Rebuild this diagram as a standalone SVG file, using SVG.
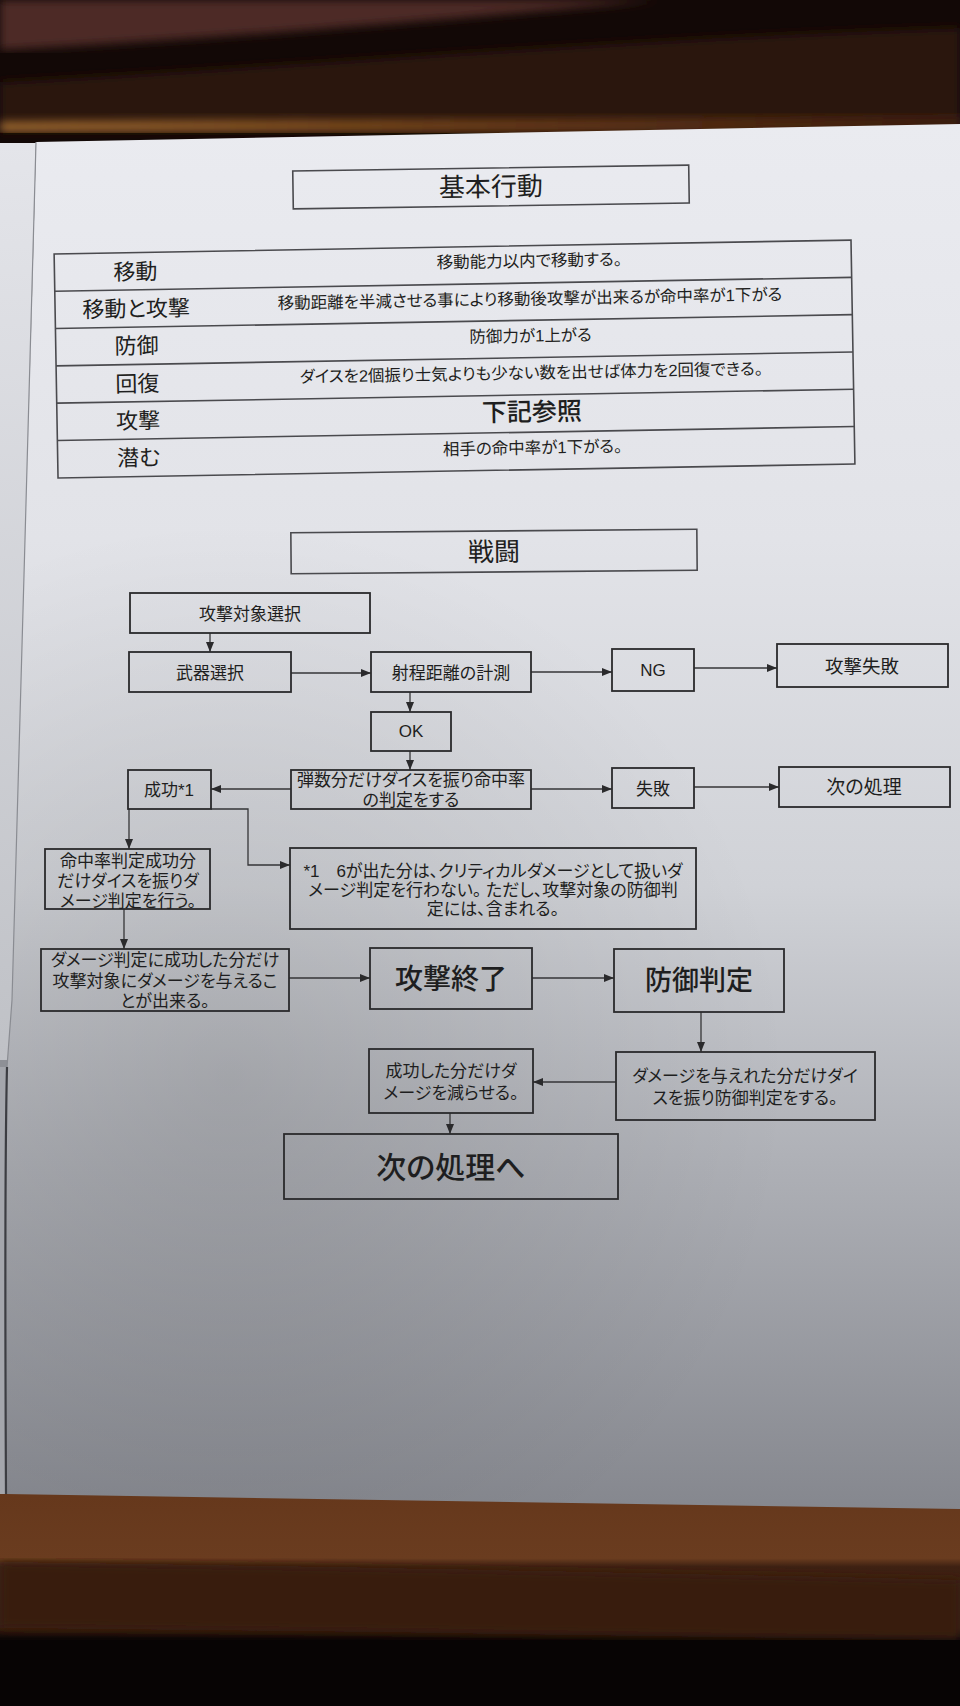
<svg xmlns="http://www.w3.org/2000/svg" width="960" height="1706" viewBox="0 0 960 1706">
<defs>
<style>
.box{fill:none;stroke:#2a2a2c;stroke-width:1.8}
.tb{fill:none;stroke:#4a4a4e;stroke-width:1.6}
.ln{fill:none;stroke:#353537;stroke-width:1.3}
.t{font-family:"Liberation Sans","Noto Sans CJK JP","Noto Sans CJK SC",sans-serif;font-weight:400;fill:#1e1e20;text-anchor:middle;font-feature-settings:"palt"}
.big{font-weight:500}
.s17{font-size:17px}
.lab{font-size:22px}
.desc{font-size:16.5px}
</style>
<linearGradient id="paper" x1="0" y1="124" x2="0" y2="1510" gradientUnits="userSpaceOnUse">
<stop offset="0" stop-color="#eaebf0"/>
<stop offset="0.3" stop-color="#e2e3e8"/>
<stop offset="0.55" stop-color="#d0d2d7"/>
<stop offset="0.75" stop-color="#aeb0b6"/>
<stop offset="1" stop-color="#85878e"/>
</linearGradient>
<linearGradient id="side" x1="0" y1="143" x2="0" y2="1065" gradientUnits="userSpaceOnUse">
<stop offset="0" stop-color="#e4e5ea"/>
<stop offset="1" stop-color="#bfc1c6"/>
</linearGradient>
<radialGradient id="shade" cx="230" cy="1080" r="560" gradientUnits="userSpaceOnUse">
<stop offset="0" stop-color="#000" stop-opacity="0.12"/>
<stop offset="1" stop-color="#000" stop-opacity="0"/>
</radialGradient>
<linearGradient id="orange" x1="0" y1="0" x2="960" y2="0" gradientUnits="userSpaceOnUse">
<stop offset="0" stop-color="#a06a30"/>
<stop offset="0.5" stop-color="#6a3c18"/>
<stop offset="1" stop-color="#3a1a0a"/>
</linearGradient>
<linearGradient id="wood" x1="0" y1="1495" x2="0" y2="1706" gradientUnits="userSpaceOnUse">
<stop offset="0" stop-color="#66381c"/>
<stop offset="0.3" stop-color="#6a3c1f"/>
<stop offset="0.34" stop-color="#3e2112"/>
<stop offset="0.63" stop-color="#381d10"/>
<stop offset="0.68" stop-color="#0c0605"/>
<stop offset="1" stop-color="#070404"/>
</linearGradient>
<filter id="soft" x="-5%" y="-5%" width="110%" height="110%"><feGaussianBlur stdDeviation="5"/></filter>
<marker id="ah" viewBox="0 0 10 8" refX="10" refY="4" markerWidth="10" markerHeight="8" markerUnits="userSpaceOnUse" orient="auto">
<path d="M0,0 L10,4 L0,8 Z" fill="#2a2a2c"/>
</marker>
</defs>

<!-- photo background -->
<g id="background">
<rect x="0" y="0" width="960" height="1706" fill="#120806"/>
<path d="M0,0 H660 C470,18 230,38 0,50 Z" fill="#4e2c25" filter="url(#soft)"/>
<path d="M0,82 C300,66 620,38 960,28 V132 H0 Z" fill="#2a1209" filter="url(#soft)"/>
<path d="M0,122 C250,118 500,122 960,114 V132 H0 Z" fill="url(#orange)" filter="url(#soft)"/>
<rect x="0" y="1480" width="960" height="226" fill="url(#wood)"/>
<path d="M0,1562 C300,1566 600,1572 960,1580 V1640 C600,1636 300,1630 0,1628 Z" fill="#381d10" filter="url(#soft)"/>
<rect x="0" y="1640" width="960" height="66" fill="#070404"/>
</g>

<!-- papers -->
<g id="paper-sheets">
<path d="M0,143 L36,143 C30,400 22,700 12,1065 L0,1065 Z" fill="url(#side)"/>
<rect x="0" y="1060" width="14" height="10" fill="#8e9096"/>
<rect x="0" y="1067" width="8" height="427" fill="#a4a6ac"/>
<path d="M36,142 L960,124 L960,1509 L6,1494 C5,1300 5,1150 7,1067 L12,1000 C18,750 30,400 36,142 Z" fill="url(#paper)"/>
<path d="M36,142 L960,124 L960,1509 L6,1494 C5,1300 5,1150 7,1067 L12,1000 C18,750 30,400 36,142 Z" fill="url(#shade)"/>
<path d="M36,142 C30,400 18,750 12,1000 L7,1067" fill="none" stroke="#8a8c92" stroke-width="1.2"/>
<path d="M7,1067 C5,1150 5,1300 6,1494" fill="none" stroke="#3c3d42" stroke-width="2.2"/>
</g>

<!-- section 1: 基本行動 -->
<g id="title-kihon" transform="rotate(-0.85 491 187)">
<rect class="tb" x="293" y="168" width="396" height="38"/>
<text class="t" x="491" y="196" font-size="26">基本行動</text>
</g>

<g id="action-table" transform="rotate(-1 455 358)">
<rect class="tb" x="56" y="247" width="797" height="224"/>
<line class="tb" x1="56" y1="284.3" x2="853" y2="284.3"/>
<line class="tb" x1="56" y1="321.6" x2="853" y2="321.6"/>
<line class="tb" x1="56" y1="358.9" x2="853" y2="358.9"/>
<line class="tb" x1="56" y1="396.2" x2="853" y2="396.2"/>
<line class="tb" x1="56" y1="433.5" x2="853" y2="433.5"/>
<g id="row-idou">
<text class="t lab" x="137" y="274">移動</text>
<text class="t desc" x="531" y="268">移動能力以内で移動する。</text>
</g>
<g id="row-idou-kougeki">
<text class="t lab" x="137" y="311">移動と攻撃</text>
<text class="t desc" x="531" y="306">移動距離を半減させる事により移動後攻撃が出来るが命中率が1下がる</text>
</g>
<g id="row-bougyo">
<text class="t lab" x="137" y="348">防御</text>
<text class="t desc" x="531" y="343">防御力が1上がる</text>
</g>
<g id="row-kaifuku">
<text class="t lab" x="137" y="386">回復</text>
<text class="t desc" x="531" y="380">ダイスを2個振り士気よりも少ない数を出せば体力を2回復できる。</text>
</g>
<g id="row-kougeki">
<text class="t lab" x="137" y="423">攻撃</text>
<text class="t big" x="531" y="422" font-size="25">下記参照</text>
</g>
<g id="row-hisomu">
<text class="t lab" x="137" y="460">潜む</text>
<text class="t desc" x="531" y="455">相手の命中率が1下がる。</text>
</g>
</g>

<!-- section 2: 戦闘 -->
<g id="title-sentou" transform="rotate(-0.5 494 551)">
<rect class="tb" x="291" y="531" width="406" height="41"/>
<text class="t" x="494" y="561" font-size="26">戦闘</text>
</g>

<g id="connectors">
<line class="ln" x1="210" y1="633" x2="210" y2="652" marker-end="url(#ah)"/>
<line class="ln" x1="291" y1="673" x2="371" y2="673" marker-end="url(#ah)"/>
<line class="ln" x1="531" y1="672" x2="612" y2="672" marker-end="url(#ah)"/>
<line class="ln" x1="694" y1="668" x2="777" y2="668" marker-end="url(#ah)"/>
<line class="ln" x1="410" y1="692" x2="410" y2="712" marker-end="url(#ah)"/>
<line class="ln" x1="410" y1="751" x2="410" y2="770" marker-end="url(#ah)"/>
<line class="ln" x1="291" y1="789" x2="211" y2="789" marker-end="url(#ah)"/>
<line class="ln" x1="531" y1="789" x2="612" y2="789" marker-end="url(#ah)"/>
<line class="ln" x1="694" y1="787" x2="779" y2="787" marker-end="url(#ah)"/>
<line class="ln" x1="129" y1="809" x2="129" y2="849" marker-end="url(#ah)"/>
<polyline class="ln" points="211,809 248,809 248,865 290,865" marker-end="url(#ah)"/>
<line class="ln" x1="124" y1="909" x2="124" y2="949" marker-end="url(#ah)"/>
<line class="ln" x1="289" y1="978" x2="370" y2="978" marker-end="url(#ah)"/>
<line class="ln" x1="532" y1="978" x2="614" y2="978" marker-end="url(#ah)"/>
<line class="ln" x1="701" y1="1012" x2="701" y2="1052" marker-end="url(#ah)"/>
<line class="ln" x1="616" y1="1082" x2="533" y2="1082" marker-end="url(#ah)"/>
<line class="ln" x1="450" y1="1113" x2="450" y2="1134" marker-end="url(#ah)"/>
</g>

<g id="n-target">
<rect class="box" x="130" y="593" width="240" height="40"/>
<text class="t s17" x="250" y="620">攻撃対象選択</text>
</g>
<g id="n-weapon">
<rect class="box" x="129" y="652" width="162" height="40"/>
<text class="t s17" x="210" y="679">武器選択</text>
</g>
<g id="n-range">
<rect class="box" x="371" y="652" width="160" height="40"/>
<text class="t s17" x="451" y="679">射程距離の計測</text>
</g>
<g id="n-ng">
<rect class="box" x="612" y="649" width="82" height="42"/>
<text class="t s17" x="653" y="676">NG</text>
</g>
<g id="n-attack-fail">
<rect class="box" x="777" y="644" width="171" height="43"/>
<text class="t" x="862" y="673" font-size="18.5">攻撃失敗</text>
</g>
<g id="n-ok">
<rect class="box" x="371" y="712" width="80" height="39"/>
<text class="t s17" x="411" y="737">OK</text>
</g>
<g id="n-hit-roll">
<rect class="box" x="291" y="770" width="240" height="39"/>
<text class="t s17" x="411" y="786">弾数分だけダイスを振り命中率</text>
<text class="t s17" x="411" y="806">の判定をする</text>
</g>
<g id="n-success">
<rect class="box" x="128" y="770" width="83" height="39"/>
<text class="t s17" x="169" y="796">成功*1</text>
</g>
<g id="n-fail">
<rect class="box" x="612" y="768" width="82" height="40"/>
<text class="t s17" x="653" y="795">失敗</text>
</g>
<g id="n-next">
<rect class="box" x="779" y="767" width="171" height="40"/>
<text class="t" x="864" y="794" font-size="19">次の処理</text>
</g>
<g id="n-damage-roll">
<rect class="box" x="45" y="849" width="165" height="60"/>
<text class="t s17" x="128" y="866.5">命中率判定成功分</text>
<text class="t s17" x="128" y="886.5">だけダイスを振りダ</text>
<text class="t s17" x="128" y="906.5">メージ判定を行う。</text>
</g>
<g id="n-note">
<rect class="box" x="290" y="848" width="406" height="81"/>
<text class="t s17" x="493" y="876.5">*1　6が出た分は、クリティカルダメージとして扱いダ</text>
<text class="t s17" x="493" y="895.5">メージ判定を行わない。 ただし、攻撃対象の防御判</text>
<text class="t s17" x="493" y="914.5">定には、含まれる。</text>
</g>
<g id="n-damage-apply">
<rect class="box" x="41" y="949" width="248" height="62"/>
<text class="t s17" x="165" y="965.5">ダメージ判定に成功した分だけ</text>
<text class="t s17" x="165" y="986.5">攻撃対象にダメージを与えるこ</text>
<text class="t s17" x="165" y="1006.5">とが出来る。</text>
</g>
<g id="n-attack-end">
<rect class="box" x="370" y="948" width="162" height="61"/>
<text class="t big" x="451" y="989" font-size="28">攻撃終了</text>
</g>
<g id="n-defense">
<rect class="box" x="614" y="949" width="170" height="63"/>
<text class="t big" x="699" y="990" font-size="27">防御判定</text>
</g>
<g id="n-defense-roll">
<rect class="box" x="616" y="1052" width="259" height="68"/>
<text class="t s17" x="745" y="1081.5">ダメージを与えれた分だけダイ</text>
<text class="t s17" x="745" y="1103.5">スを振り防御判定をする。</text>
</g>
<g id="n-reduce">
<rect class="box" x="369" y="1049" width="164" height="64"/>
<text class="t s17" x="451" y="1076.5">成功した分だけダ</text>
<text class="t s17" x="451" y="1098.5">メージを減らせる。</text>
</g>
<g id="n-next-final">
<rect class="box" x="284" y="1134" width="334" height="65"/>
<text class="t big" x="451" y="1178" font-size="30">次の処理へ</text>
</g>
</svg>
